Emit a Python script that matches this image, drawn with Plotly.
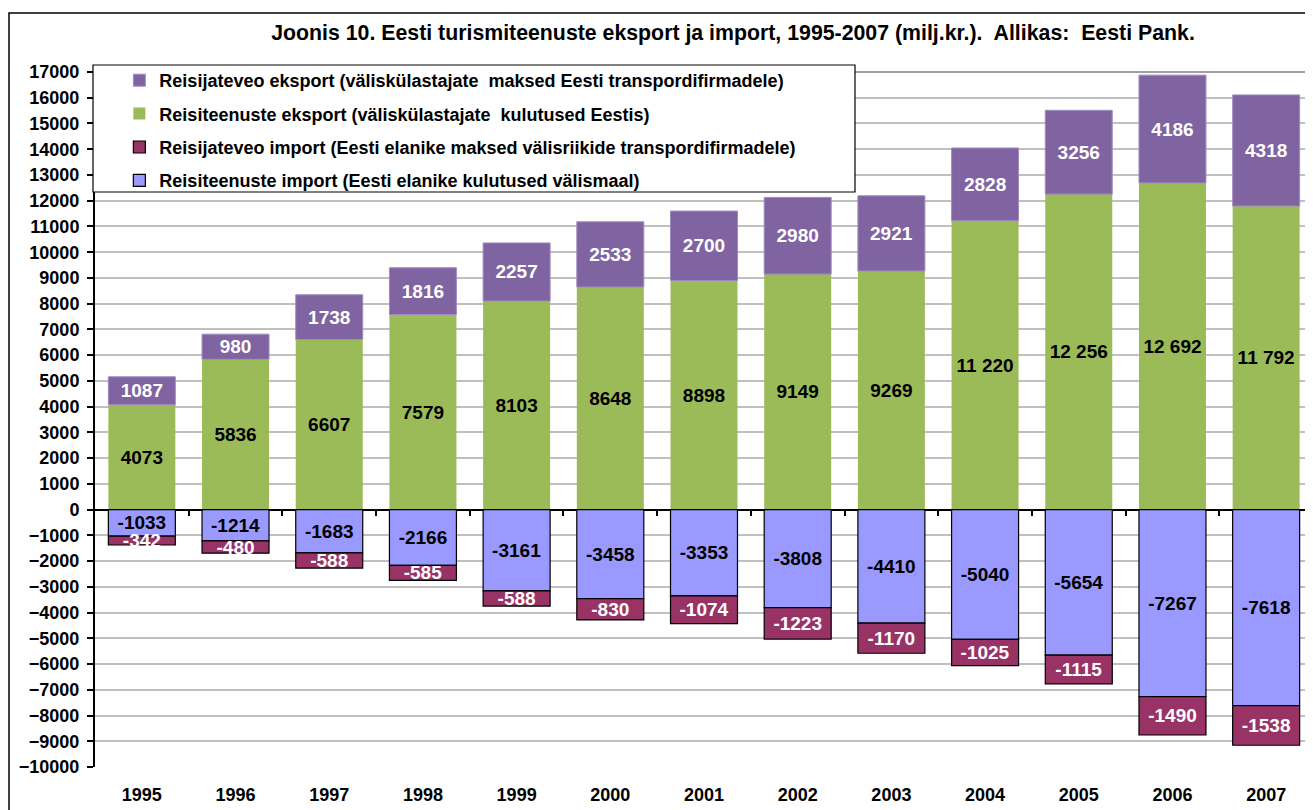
import plotly.graph_objects as go

years = ["1995", "1996", "1997", "1998", "1999", "2000", "2001", "2002", "2003", "2004", "2005", "2006", "2007"]
export_services = [4073, 5836, 6607, 7579, 8103, 8648, 8898, 9149, 9269, 11220, 12256, 12692, 11792]
export_transport = [1087, 980, 1738, 1816, 2257, 2533, 2700, 2980, 2921, 2828, 3256, 4186, 4318]
import_services = [-1033, -1214, -1683, -2166, -3161, -3458, -3353, -3808, -4410, -5040, -5654, -7267, -7618]
import_transport = [-342, -480, -588, -585, -588, -830, -1074, -1223, -1170, -1025, -1115, -1490, -1538]

names = {
    "et": "Reisijateveo eksport (väliskülastajate  maksed Eesti transpordifirmadele)",
    "es": "Reisiteenuste eksport (väliskülastajate  kulutused Eestis)",
    "it": "Reisijateveo import (Eesti elanike maksed välisriikide transpordifirmadele)",
    "is": "Reisiteenuste import (Eesti elanike kulutused välismaal)",
}

def fmt(v):
    if abs(v) >= 10000:
        return f"{v:,}".replace(",", " ")
    return str(v)

FONT = "Liberation Sans, Arial, sans-serif"
LBL = 19

# page is drawn with an 8px body margin; window coords -> figure coords
W, H = 1305, 802

fig = go.Figure()

def add(vals, name, color, txtcolor, line_color, line_w, rank):
    fig.add_trace(go.Bar(
        x=years, y=vals, name=name,
        marker=dict(color=color, line=dict(color=line_color, width=line_w)),
        text=[fmt(v) for v in vals], textposition="inside", insidetextanchor="middle",
        constraintext="none", cliponaxis=False,
        textfont=dict(family=FONT, size=LBL, color=txtcolor, weight="bold"),
        textangle=0, legendrank=rank, legendgroup=name,
    ))

add(export_services, names["es"], "#9BBB59", "black", "#9BBB59", 0, 2)
add(export_transport, names["et"], "#8064A2", "white", "#A08CC0", 1, 1)
add(import_services, names["is"], "#9999FF", "black", "black", 1.2, 4)
add(import_transport, names["it"], "#993366", "white", "black", 1.2, 3)

n = len(years)
# invisible helper so the category-boundary tick axis at zero is drawn
fig.add_trace(go.Scatter(x=list(range(n)), y=[0] * n, xaxis="x2", mode="markers",
                         marker=dict(opacity=0), showlegend=False, hoverinfo="skip"))

ymin, ymax = -10000, 17000

fig.update_layout(
    width=W, height=H,
    barmode="relative", bargap=0.285,
    paper_bgcolor="white", plot_bgcolor="white",
    margin=dict(l=87, r=0, t=64, b=43),
    font=dict(family=FONT, color="black"),
    title=dict(
        text="<b>Joonis 10. Eesti turismiteenuste eksport ja import, 1995-2007 (milj.kr.).  Allikas:  Eesti Pank.</b>",
        x=725 / W, xref="container", xanchor="center", y=1 - 25 / H, yref="container", yanchor="middle",
        font=dict(family=FONT, size=21.3, color="black"),
    ),
    legend=dict(
        x=0.02, y=1.0144, xanchor="left", yanchor="top",
        bgcolor="rgba(0,0,0,0)", borderwidth=0,
        font=dict(family=FONT, size=18, color="black", weight="bold"),
        tracegroupgap=7, traceorder="grouped",
    ),
    xaxis=dict(
        type="category", showgrid=False, showline=False, zeroline=False, ticks="",
        tickfont=dict(family=FONT, size=18, color="black", weight="bold"),
        ticklabelstandoff=15,
    ),
    xaxis2=dict(
        overlaying="x", anchor="free", position=(0 - ymin) / (ymax - ymin),
        type="linear", range=[-0.5, n - 0.5],
        tickmode="array", tickvals=[i + 0.5 for i in range(n - 1)],
        ticks="outside", ticklen=5, tickwidth=1.5, tickcolor="black",
        showticklabels=False, showgrid=False, showline=False, zeroline=False,
        side="bottom",
    ),
    yaxis=dict(
        range=[ymin, ymax], dtick=1000, tick0=0, tickformat="d",
        showgrid=True, gridcolor="#C0C0C0", gridwidth=1.5,
        zeroline=True, zerolinecolor="black", zerolinewidth=2,
        showline=True, linecolor="black", linewidth=2,
        ticks="outside", ticklen=6, tickcolor="black", tickwidth=1.5,
        tickfont=dict(family=FONT, size=18, color="black", weight="bold"),
        ticklabelstandoff=4,
    ),
    shapes=[
        # outer chart frame
        dict(type="rect", xref="paper", yref="paper", x0=(9 - 95) / 1218, x1=1.05,
             y0=-0.2, y1=(767 - 13) / 695, line=dict(color="black", width=1.5), layer="below"),
        # plot area top border
        dict(type="line", xref="paper", yref="paper", x0=0, x1=1, y0=1, y1=1,
             line=dict(color="#808080", width=1.5)),
        # legend box
        dict(type="rect", xref="paper", yref="paper", x0=(93 - 95) / 1218, x1=(855 - 95) / 1218,
             y0=(767 - 192) / 695, y1=(767 - 65) / 695, line=dict(color="black", width=1.2),
             fillcolor="white", layer="above"),
    ],
)

fig.write_html("out.html")
